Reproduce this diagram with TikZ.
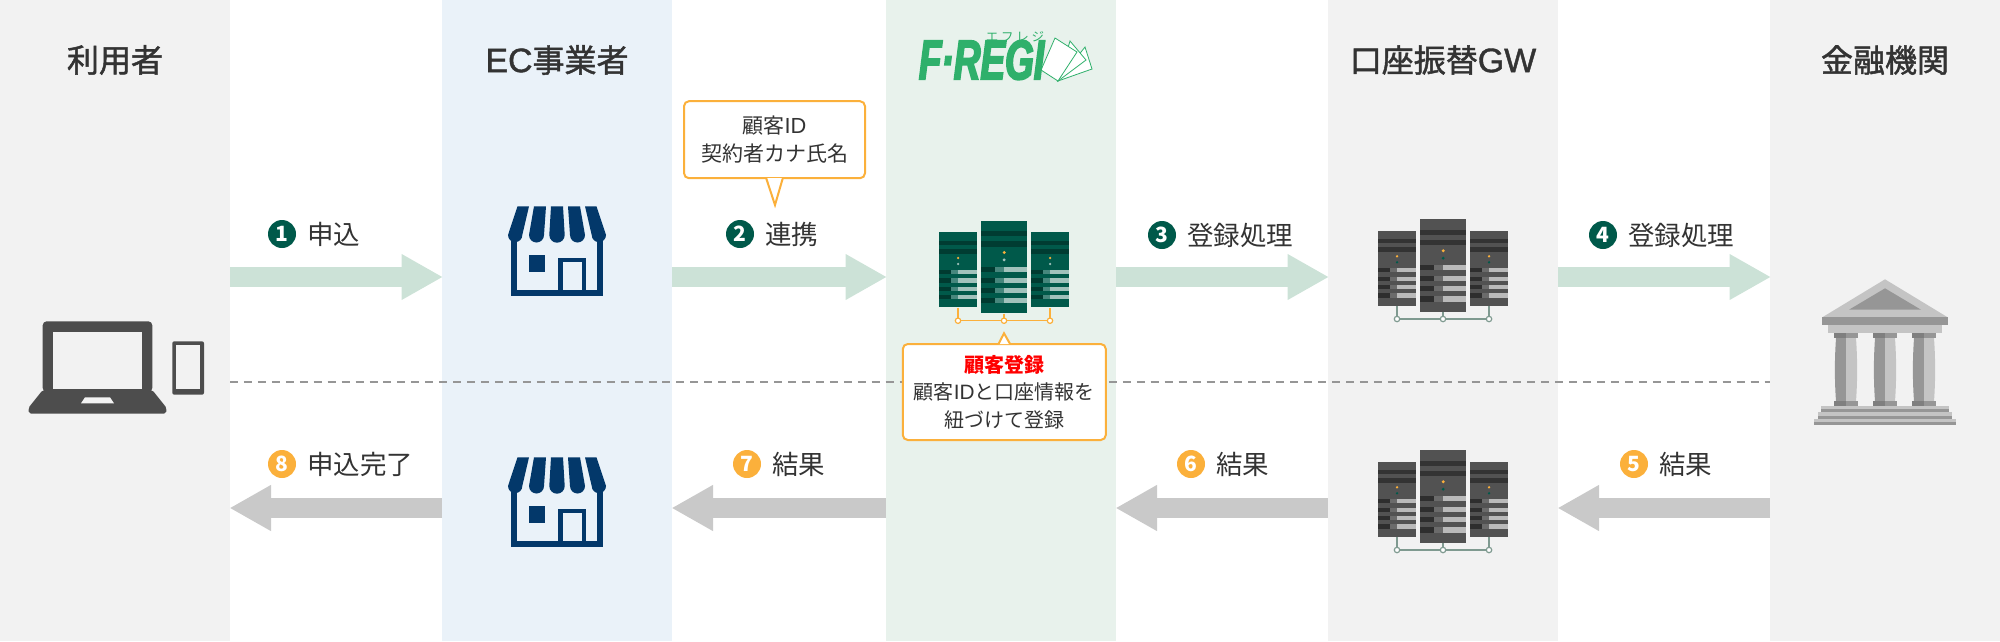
\documentclass[tikz,border=0pt]{standalone}
\usepackage{fontspec}
\usepackage{tikz}
\usetikzlibrary{positioning}
\usetikzlibrary{arrows.meta}
\usetikzlibrary{calc}
\setmainfont{Noto Sans CJK JP}
\newfontfamily\headfont[FakeBold=1.5]{Noto Sans CJK JP}
\newfontfamily\headlatin[FakeBold=1.2,Scale=1.06]{Liberation Sans}
\newfontfamily\bodylatin[Scale=1.04]{Liberation Sans}
\newfontfamily\logofont[FakeStretch=0.66,FakeBold=3]{Liberation Sans}
\newfontfamily\logokana[LetterSpace=22]{Noto Sans CJK JP}

\definecolor{bandgray}{HTML}{F2F2F2}
\definecolor{bandblue}{HTML}{EAF2F9}
\definecolor{bandgreen}{HTML}{E8F2EC}
\definecolor{flowgreen}{HTML}{CCE2D7}
\definecolor{flowgray}{HTML}{C9C9C9}
\definecolor{stepgreen}{HTML}{00594A}
\definecolor{steporange}{HTML}{FBB03B}
\definecolor{storeblue}{HTML}{03386A}
\definecolor{devicegray}{HTML}{4D4D4D}
\definecolor{logogreen}{HTML}{2FB06B}
\definecolor{inkgray}{HTML}{333333}
\definecolor{banklight}{HTML}{C4C4C4}
\definecolor{bankmid}{HTML}{969696}
\definecolor{bankdark}{HTML}{7F7F7F}

\tikzset{
  band/.style={fill=#1, inner sep=0pt, outer sep=0pt, minimum width=230pt, minimum height=641pt},
  title/.style={font=\headfont\fontsize{32}{36}\selectfont, text=inkgray, inner sep=0pt},
  flowup/.style={line width=20.5pt, draw=flowgreen, shorten >=-1pt, -{Triangle[length=41.5pt,width=43pt]}},
  flowdown/.style={line width=20.5pt, draw=flowgray, shorten >=-0.5pt, -{Triangle[length=41.5pt,width=43pt]}},
  midline/.style={draw=bankmid, line width=2pt, dash pattern=on 8pt off 5.95pt},
  stepnum/.style={circle, fill=#1, minimum size=28pt, inner sep=0pt, text=white,
    font=\bfseries\fontsize{21}{21}\selectfont},
  steptext/.style={font=\fontsize{26.5}{30}\selectfont, text=inkgray, inner sep=0pt, right=11pt of #1},
  notebox/.style={draw=steporange, fill=white, line width=2pt, rounded corners=5pt, inner sep=0pt,
    align=center, text=inkgray},
  notetail/.style={draw=steporange, fill=white, line width=2pt},
  greenrack/.code={
    \colorlet{rackbody}{stepgreen}\colorlet{rackstripe}{stepgreen!68!black}
    \colorlet{rackdark}{stepgreen!65!black}\colorlet{rackmid}{stepgreen!72!white}
    \colorlet{racklight}{stepgreen!37!white}\colorlet{rackdot}{racklight}
    \colorlet{rackwire}{steporange}},
  grayrack/.code={
    \colorlet{rackbody}{black!68}\colorlet{rackstripe}{black!80}
    \colorlet{rackdark}{black!82}\colorlet{rackmid}{black!58}
    \colorlet{racklight}{black!27}\colorlet{rackdot}{stepgreen}
    \definecolor{rackwire}{HTML}{7F9A90}},
  rack/.pic={
    \fill[rackbody] (0,0) rectangle (37.7,75);
    \fill[rackstripe] (0,8.7) rectangle (37.7,12.7);
    \fill[rackstripe] (0,16.7) rectangle (37.7,21.3);
    \fill[steporange] (18.9,25.7) circle (1.3);
    \fill[rackdot] (18.9,31.7) circle (1.3);
    \foreach \bartop in {37.3,46,54.3,62.7} {
      \fill[rackdark] (0,\bartop) rectangle (11.7,\bartop+4.2);
      \fill[rackmid] (11.7,\bartop) rectangle (19,\bartop+4.2);
      \fill[racklight] (19,\bartop) rectangle (37.7,\bartop+4.2);
    }
  },
  rackset/.pic={
    \draw[rackwire, line width=1.2pt] (-46,-13) -- (-46,0) -- (46,0) -- (46,-13);
    \draw[rackwire, line width=1.2pt] (0,-7) -- (0,0);
    \foreach \wirex in {-46,0,46} {
      \draw[rackwire, fill=white, line width=1.2pt] (\wirex,0) circle (2.7);
    }
    \pic at (-64.85,-88.4) {rack};
    \pic[scale=1.235] at (-23.15,-100) {rack};
    \pic at (27.15,-88.4) {rack};
  },
  store/.pic={
    % Awning
    \foreach \topa/\topb/\lowa/\lowb in {-39.5/-28/-49/-34.7, -23/-11/-28/-13, -6/6/-7.7/7.7,
                                         11/23/13/28, 28/39.5/34.7/49} {
      \fill[storeblue] (\topa,0) -- (\topb,0) -- (\lowb,28.7)
        arc[start angle=0, end angle=180, radius={(\lowb-(\lowa))/2}] -- cycle;
    }
    % Walls
    \draw[storeblue, line width=6pt] (-43.3,30) -- (-43.3,87) -- (43.3,87) -- (43.3,30);
    \fill[storeblue] (-28.3,49) rectangle (-11.7,65.7);
    \draw[storeblue, line width=4.7pt] (3.2,87) -- (3.2,53.7) -- (26.9,53.7) -- (26.9,87);
  }
}

\begin{document}
\begin{tikzpicture}[x=1pt,y=-1pt]
  \useasboundingbox (0,0) rectangle (2000,641);

  % Columns
  \node (user) [band=bandgray] at (115,320.5) {};
  \node (ec) [band=bandblue] at (557,320.5) {};
  \node (fregi) [band=bandgreen] at (1001,320.5) {};
  \node (gw) [band=bandgray] at (1443,320.5) {};
  \node (bank) [band=bandgray] at (1885,320.5) {};

  \coordinate (upper) at (0,277);
  \coordinate (middle) at (0,382);
  \coordinate (lower) at (0,508);

  % Titles
  \node (usertitle) [title] at (115,60) {利用者};
  \node (ectitle) [title] at (557,60) {{\headlatin EC}事業者};
  \node (gwtitle) [title] at (1443,60) {口座振替{\headlatin GW}};
  \node (banktitle) [title] at (1885,60) {金融機関};

  % Logo
  \draw[logogreen, fill=white, line width=0.8pt] (1058,81) -- (1085,47) -- (1092,69) -- cycle;
  \draw[logogreen, fill=white, line width=0.8pt] (1058,81) -- (1070,41) -- (1086,60) -- cycle;
  \draw[logogreen, fill=white, line width=0.8pt] (1055,38) -- (1077,52) -- (1058,81) -- (1041,70) -- cycle;
  \node (logo) [inner sep=0pt, text=logogreen,
    font=\logofont\bfseries\itshape\fontsize{56}{56}\selectfont] at (981.5,60) {F·REGI};
  \node (logokana) [inner sep=0pt, text=logogreen,
    font=\logokana\fontsize{12.5}{12.5}\selectfont] at (1015,36.5) {エフレジ};

  % Dashed divider
  \draw[midline] (user.east |- middle) -- (bank.west |- middle);

  % Arrows
  \draw[flowup] (user.east |- upper) -- (ec.west |- upper);
  \draw[flowup] (ec.east |- upper) -- (fregi.west |- upper);
  \draw[flowup] (fregi.east |- upper) -- (gw.west |- upper);
  \draw[flowup] (gw.east |- upper) -- (bank.west |- upper);
  \draw[flowdown] (ec.west |- lower) -- (user.east |- lower);
  \draw[flowdown] (fregi.west |- lower) -- (ec.east |- lower);
  \draw[flowdown] (gw.west |- lower) -- (fregi.east |- lower);
  \draw[flowdown] (bank.west |- lower) -- (gw.east |- lower);

  % Step labels
  \node (num1) [stepnum=stepgreen] at (282,234) {1};
  \node (lab1) [steptext=num1] {申込};
  \node (num2) [stepnum=stepgreen] at (740,234) {2};
  \node (lab2) [steptext=num2] {連携};
  \node (num3) [stepnum=stepgreen] at (1162,235) {3};
  \node (lab3) [steptext=num3] {登録処理};
  \node (num4) [stepnum=stepgreen] at (1603,235) {4};
  \node (lab4) [steptext=num4] {登録処理};
  \node (num5) [stepnum=steporange] at (1634,464) {5};
  \node (lab5) [steptext=num5] {結果};
  \node (num6) [stepnum=steporange] at (1191,464) {6};
  \node (lab6) [steptext=num6] {結果};
  \node (num7) [stepnum=steporange] at (747,464) {7};
  \node (lab7) [steptext=num7] {結果};
  \node (num8) [stepnum=steporange] at (282,464) {8};
  \node (lab8) [steptext=num8] {申込完了};

  % Laptop and phone
  \fill[devicegray, rounded corners=4pt] (42.7,392) -- (42.7,321.3) -- (152.3,321.3) -- (152.3,392) -- cycle;
  \fill[bandgray] (53.3,332) rectangle (142,388.7);
  \fill[devicegray, rounded corners=2pt] (42.7,390) -- (28.3,408) -- (29,413.7) -- (166,413.7)
    -- (166.7,408) -- (152.3,390) -- cycle;
  \fill[bandgray] (85,397.3) -- (110,397.3) -- (114,403.3) -- (81,403.3) -- cycle;
  \fill[devicegray, rounded corners=2pt] (172.3,341.3) rectangle (204,394.7);
  \fill[bandgray] (176,345.3) rectangle (200,389.3);

  % Stores
  \pic at (557,206.3) {store};
  \pic at (557,457.3) {store};

  % Servers
  \pic[greenrack] at (1004,320.7) {rackset};
  \pic[grayrack] at (1443,319) {rackset};
  \pic[grayrack] at (1443,550) {rackset};

  % Bank
  \begin{scope}[shift={(1885,270)}]
    \fill[banklight] (0,9.3) -- (-62.7,47.3) -- (62.7,47.3) -- cycle;
    \fill[bankmid] (0,18.3) -- (-36,39.7) -- (36,39.7) -- cycle;
    \fill[bankmid] (-62.7,47.3) rectangle (62.7,55);
    \fill[banklight] (-57,55) rectangle (57,63.3);
    \foreach \colx in {-39,0,39} {
      \fill[bankdark] (\colx-12,63.3) rectangle (\colx,68);
      \fill[bankmid] (\colx,63.3) rectangle (\colx+12,68);
      \fill[bankmid] (\colx,68) -- (\colx-10,68) .. controls (\colx-11.5,90) and (\colx-11.5,110) .. (\colx-10,131.3) -- (\colx,131.3) -- cycle;
      \fill[banklight] (\colx,68) -- (\colx+10,68) .. controls (\colx+11.5,90) and (\colx+11.5,110) .. (\colx+10,131.3) -- (\colx,131.3) -- cycle;
      \fill[bankdark] (\colx-12,131.3) rectangle (\colx,136);
      \fill[bankmid] (\colx,131.3) rectangle (\colx+12,136);
    }
    \fill[banklight] (-63.7,136) rectangle (63.7,139.3);
    \fill[bankmid] (-63.7,139.3) rectangle (63.7,142.3);
    \fill[banklight] (-67.3,142.3) rectangle (67.3,145.7);
    \fill[bankmid] (-67.3,145.7) rectangle (67.3,149);
    \fill[banklight] (-71,149) rectangle (71,152.3);
    \fill[bankmid] (-71,152.3) rectangle (71,155.3);
  \end{scope}

  % Callouts
  \node (linknote) [notebox, minimum width=181pt, minimum height=77pt,
    font=\fontsize{21}{27.5}\selectfont] at (774.5,139.7) {顧客{\bodylatin ID}\\契約者カナ氏名};
  \coordinate (linktip) at (775,205);
  \filldraw[notetail] ($(linknote.south)+(-8.3,-1)$) -- (linktip) -- ($(linknote.south)+(8.3,-1)$);

  \node (regnote) [notebox, minimum width=203pt, minimum height=96pt,
    font=\fontsize{20}{27.5}\selectfont] at (1004.3,392) {\textcolor{red}{\bfseries 顧客登録}\\顧客{\bodylatin ID}と口座情報を\\紐づけて登録};
  \coordinate (regtip) at (1004,333.3);
  \filldraw[notetail] ($(regnote.north)+(-5.8,1)$) -- (regtip) -- ($(regnote.north)+(5.8,1)$);
\end{tikzpicture}
\end{document}
